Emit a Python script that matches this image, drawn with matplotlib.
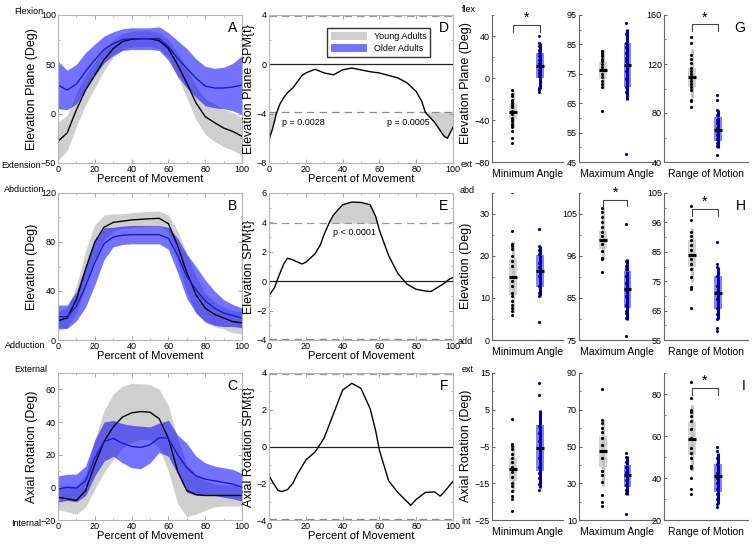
import numpy as np
import matplotlib
matplotlib.use("Agg")
import matplotlib.pyplot as plt
from matplotlib.patches import Patch, Rectangle
from matplotlib.ticker import MultipleLocator, AutoMinorLocator

plt.rcParams['font.family'] = ['Liberation Sans', 'DejaVu Sans']

# ── Data ─────────────────────────────────────────────────────────────────────
pct = [0, 5, 10, 15, 20, 25, 30, 35, 40, 45, 50, 55, 60, 65, 70, 75, 80, 85, 90, 95, 100]

# A: elevation plane (mean / sd)
young_mean_A = [-28, -19.5, 4, 24, 39, 54.5, 66, 73, 75.5, 76, 76, 74, 66, 49.5, 31, 11, -3, -9, -14.5, -18, -23]
young_sd_A = [19, 18, 17, 15, 13, 11, 9, 8, 8, 8, 8, 8, 9, 12, 15, 17, 18, 19, 19, 19, 19]
old_mean_A = [29, 24, 30, 43, 54.5, 65, 71, 75, 76, 76, 76, 76, 68, 56, 46, 36, 28, 26, 26, 27, 29]
old_sd_A = [24, 20, 20, 19, 16, 13.5, 12, 11, 11, 11, 11, 12, 14, 18, 20, 19.5, 20, 20, 21, 24, 30]

# B: elevation
young_mean_B = [15.7, 18, 33, 58, 80, 92, 96, 97, 98, 98.5, 99, 99.3, 95, 77, 55, 37, 26, 21, 18, 15, 14]
young_sd_B = [8, 8, 11, 15, 14, 10, 7, 6, 6, 6, 6, 6, 7, 12, 16, 15, 12, 10, 9, 9, 9]
old_mean_B = [19, 19, 27.6, 44, 63, 78.6, 84, 85.5, 86, 86, 86, 86, 83, 69, 52, 41, 32, 26, 22, 20, 18]
old_sd_B = [9.5, 9.5, 12, 17, 18, 13, 8, 7.5, 7.5, 7.5, 7.5, 7.5, 9, 14, 18, 19, 17, 14, 11, 9, 8]

# C: axial rotation
young_mean_C = [-6, -7, -8, -2, 14, 28, 37, 43, 45.6, 46.4, 46, 42, 30, 10, -2, -4.4, -5, -5, -5, -5, -5]
young_sd_C = [7.5, 8, 8.5, 10, 15, 19, 20, 19, 18, 17, 17, 18, 20, 20, 16, 12, 9, 7, 6.5, 6.5, 6.5]
old_mean_C = [-1, 0, -0.4, 4, 18, 28, 30, 27, 25, 24.4, 26, 30.4, 30, 20, 12, 7, 5, 4, 3, 2, 0]
old_sd_C = [8, 8, 8.5, 9, 11, 12, 11, 12, 13, 13, 11, 9, 11, 12, 15, 12, 10, 9, 9, 9, 8.5]

# D-F: SPM{t} curves
x_D = [0, 2, 4, 6, 8, 10, 13, 15, 18, 20, 25, 30, 35, 40, 45, 50, 55, 60, 65, 70, 75, 80, 83, 85, 90, 95, 97, 100]
t_D = [-6.1, -5.2, -4.0, -3.2, -2.7, -2.3, -1.9, -1.5, -0.9, -0.7, -0.4, -0.7, -0.85, -0.45, -0.3,
       -0.45, -0.6, -0.7, -0.9, -1.1, -1.5, -2.2, -3.0, -3.9, -4.7, -5.8, -6.0, -5.1]
x_E = [0, 3, 5, 8, 10, 13, 15, 18, 20, 25, 28, 30, 33, 35, 40, 45, 50, 55, 58, 60, 65, 70, 75, 80, 85, 88, 90, 95, 98, 100]
t_E = [-0.97, -0.44, 0.25, 1.17, 1.56, 1.45, 1.33, 1.17, 1.29, 1.86, 2.5, 3.2, 4.05, 4.5, 5.2, 5.38,
       5.36, 5.2, 4.4, 3.47, 1.75, 0.53, -0.2, -0.55, -0.67, -0.7, -0.55, -0.16, 0.14, 0.25]
x_F = [0, 3, 5, 7, 10, 13, 15, 20, 25, 27, 30, 35, 40, 45, 50, 55, 58, 60, 65, 70, 75, 77, 80, 85, 90, 93, 95, 100]
t_F = [-1.6, -2.1, -2.4, -2.45, -2.35, -2.0, -1.58, -0.74, -0.3, 0.0, 0.47, 1.77, 3.07, 3.44, 3.16,
       2.05, 0.84, -0.2, -1.86, -2.5, -3.0, -3.2, -2.88, -2.5, -2.47, -2.7, -2.5, -1.9]
thr_D, thr_E, thr_F = 3.9, 3.95, 3.95

# G-I: individual values and box stats [whisker lo, q1, median, q3, whisker hi]
G_min_young = [-11.6, -14.8, -17.3, -20.5, -22, -23.6, -26, -28, -31.5, -33, -34.6, -37.8, -39.4, -41, -44, -45.7, -47, -50, -56.7, -62]
G_min_young_box = [-47, -39, -32.4, -25, -11.6]
G_min_old = [40, 33, 30, 27, 23.6, 20.5, 17.3, 14, 11, 8, 4.7, 1.6, -9.4, -11.6, -13.5]
G_min_old_box = [-10, 0, 11.6, 23.6, 33]

G_max_young = [82.8, 82.2, 81.7, 80.9, 80.2, 79.4, 78.3, 77.2, 76.4, 74.9, 73.8, 72.7, 71.5, 70.4, 62.5]
G_max_young_box = [70, 73.2, 76.4, 78.9, 83.4]
G_max_old = [92.2, 88.5, 85.6, 84, 82.2, 80.5, 79.4, 78, 76, 73.2, 70.4, 68.7, 47.8]
G_max_old_box = [66, 70.4, 78, 85.6, 90.4]

G_rom_young = [142.3, 136.8, 127, 124.3, 121, 117, 114, 111.5, 108.7, 106, 103.3, 101.4, 99, 91, 89.6, 85]
G_rom_young_box = [92, 101.4, 109.3, 116.9, 132]
G_rom_old = [94.5, 91, 82.8, 78.7, 74.6, 72, 67.8, 65, 62.4, 58.8, 55.5, 52.8, 46]
G_rom_old_box = [51.5, 56.9, 66.5, 76.8, 82.8]

H_min_young = [35.2, 26, 22.8, 22.4, 21.6, 20, 18.8, 17.6, 15, 14, 12.8, 11.2, 10.4, 9.2, 8.4, 7.6, 6.8, 6]
H_min_young_box = [6.4, 10.8, 15, 19.2, 23.6]
H_min_old = [26.4, 22.4, 21.4, 20.4, 18.4, 17.4, 16.4, 15.2, 12.8, 11.2, 10.4, 4.4]
H_min_old_box = [10.4, 12.6, 16.4, 20.2, 22.4]

H_max_young = [106.4, 105.4, 104.2, 103, 101.8, 100.6, 99.8, 98.8, 97.8, 96.2, 94.6, 94.2, 91.2]
H_max_young_box = [94.2, 96.6, 98.8, 101, 106.6]
H_max_old = [102.6, 93.8, 92.6, 91.8, 90.2, 88.6, 87, 85.4, 83.4, 81.8, 81.4, 80.2, 76]
H_max_old_box = [79.8, 82.6, 87.2, 91.4, 94.2]

H_rom_young = [100.7, 95.8, 91.8, 90.4, 88.9, 87.2, 85.5, 84, 82.6, 80.9, 79.2, 76.3, 72.9, 72.3, 66]
H_rom_young_box = [74.6, 79.7, 84, 89, 93]
H_rom_old = [88.3, 80.9, 79.8, 76.9, 73.5, 71.2, 68.9, 66, 63.8, 62, 59, 57.9]
H_rom_old_box = [62, 65.5, 71, 76.7, 80]

I_min_young = [2.5, -4.3, -4.9, -5.6, -7, -8.2, -9.3, -10.7, -12, -13.4, -14.8, -15.7, -17.1, -18.5, -19.4, -22.5]
I_min_young_box = [-17.4, -14.3, -11.1, -8.1, -4.5]
I_min_old = [12.3, 9, 0.5, -1.4, -3.6, -5.3, -8.2, -10.5, -12.3, -13.6, -15.3, -16.8]
I_min_old_box = [-16.4, -11.6, -5.3, 0.9, 5]

I_max_young = [81.3, 64.5, 62.7, 60, 57.8, 54.5, 50.9, 47.3, 43.6, 36.4, 34.5, 30.9, 23.6, 20, 17.8]
I_max_young_box = [28.6, 38.6, 47.3, 55.5, 65]
I_max_old = [46.7, 44.4, 41.3, 38.9, 36.2, 34.5, 31.8, 29, 26.4, 24.5, 13.1]
I_max_old_box = [23.6, 28.2, 34.5, 40, 45]

I_rom_young = [85.9, 78, 72.5, 71.3, 69.3, 67, 63.5, 59.1, 54.4, 52, 49.6, 45.7, 44.9, 40.2, 34.6, 32.6]
I_rom_young_box = [43.3, 51, 58.8, 66.7, 74.9]
I_rom_old = [54.6, 52.8, 49.6, 46.5, 42.5, 40.2, 37.8, 34.6, 32.3, 29.9, 27.6, 26]
I_rom_old_box = [27.6, 33.2, 40.9, 46.6, 52]

box_labels = ["Minimum Angle", "Maximum Angle", "Range of Motion"]

# ── Style ────────────────────────────────────────────────────────────────────
GREY = "#cfcfcf"
BLUE_BAND = "#0000ff"
BLUE_LINE = "#1a1ad0"
W, H = 754, 547

fig = plt.figure(figsize=(W / 100, H / 100), dpi=100)


def ax_px(left, top, right, bottom):
    return fig.add_axes([left / W, 1 - bottom / H, (right - left) / W, (bottom - top) / H])


def ftxt(x, y, s, **kw):
    kw.setdefault("fontsize", 6.5)
    kw.setdefault("va", "center")
    fig.text(x / W, 1 - y / H, s, **kw)


def frame(ax):
    for s in ax.spines.values():
        s.set_color("#b4b4b4")
        s.set_linewidth(0.8)
    ax.tick_params(which="both", direction="in", top=True, right=True, color="#999999",
                   labelsize=6.5, pad=1.5)
    ax.tick_params(which="major", length=3, width=0.6)
    ax.tick_params(which="minor", length=1.5, width=0.5)
    ax.set_xlim(0, 100)
    ax.set_xticks([0, 20, 40, 60, 80, 100])
    ax.xaxis.set_minor_locator(MultipleLocator(10))
    ax.yaxis.set_minor_locator(AutoMinorLocator(2))
    ax.set_xlabel("Percent of Movement", fontsize=8, labelpad=0)


def letter(ax, s, x=0.975, y=0.96):
    ax.text(x, y, s, transform=ax.transAxes, ha="right", va="top", fontsize=10)


def draw_kin(ax, ym, ysd, om, osd, ylim, yticks, ylabel, let):
    ym, ysd, om, osd = map(np.asarray, (ym, ysd, om, osd))
    ax.fill_between(pct, ym - ysd, ym + ysd, color=GREY, lw=0)
    ax.fill_between(pct, om - osd, om + osd, color=BLUE_BAND, alpha=0.55, lw=0)
    ax.plot(pct, ym, color="k", lw=1)
    ax.plot(pct, om, color=BLUE_LINE, lw=1)
    frame(ax)
    ax.set_ylim(*ylim)
    ax.set_yticks(yticks)
    ax.set_ylabel(ylabel, fontsize=9, labelpad=2)
    letter(ax, let)


def draw_spm(ax, x, t, thr, side, ylim, yticks, ylabel, let):
    x, t = np.asarray(x), np.asarray(t)
    ax.axhline(0, color="#222222", lw=0.9)
    ax.axhline(thr, color="#9a9a9a", lw=0.9, ls=(0, (6, 4)))
    ax.axhline(-thr, color="#8a8a8a", lw=0.9, ls=(0, (6, 4)))
    if side > 0:
        ax.fill_between(x, thr, t, where=t > thr, interpolate=True, color=GREY, lw=0)
    else:
        ax.fill_between(x, -thr, t, where=t < -thr, interpolate=True, color=GREY, lw=0)
    ax.plot(x, t, color="k", lw=1)
    frame(ax)
    ax.set_ylim(*ylim)
    ax.set_yticks(yticks)
    ax.set_ylabel(ylabel, fontsize=9, labelpad=1)
    letter(ax, let)


def draw_box(ax, young, ybox, old, obox, ylim, yticks, xlim, xlabel,
             ticklabels=None, sig=None, let=None):
    groups = [(1, young, ybox, "#d4d4d4", "#c2c2c2", "k"),
              (2, old, obox, "#8484f4", "#0000b4", "#00007a")]
    for pos, pts, st, box_c, wh_c, dot_c in groups:
        wlo, q1, med, q3, whi = st
        ax.plot([pos, pos], [wlo, whi], color=wh_c, lw=2.2, solid_capstyle="butt", zorder=1)
        ax.add_patch(Rectangle((pos - 0.15, q1), 0.3, q3 - q1, fc=box_c, ec="none", zorder=2))
        ax.plot([pos, pos], [q1, q3], color=wh_c, lw=2.2, solid_capstyle="butt", zorder=2)
        ax.plot([pos - 0.15, pos + 0.15], [med, med], color="k", lw=2.2,
                solid_capstyle="butt", zorder=3)
        ax.scatter(np.full(len(pts), pos - 0.04), pts, s=5, color=dot_c, lw=0, zorder=4)
    ax.set_xlim(*xlim)
    ax.set_ylim(*ylim)
    ax.set_yticks(yticks)
    if ticklabels:
        ax.set_yticklabels(ticklabels)
    ax.yaxis.set_minor_locator(AutoMinorLocator(2))
    ax.set_xticks([])
    for s in ("top", "right"):
        ax.spines[s].set_visible(False)
    for s in ("left", "bottom"):
        ax.spines[s].set_color("#666666")
        ax.spines[s].set_linewidth(0.8)
    ax.tick_params(which="both", direction="in", color="#666666", labelsize=6.5, pad=1.5)
    ax.tick_params(which="major", length=2.5)
    ax.tick_params(which="minor", length=1.5)
    ax.set_xlabel(xlabel, fontsize=7.5, labelpad=5)
    if sig is not None:
        leg = 0.045 * (ylim[1] - ylim[0])
        ax.plot([1, 1, 2, 2], [sig - leg, sig, sig, sig - leg], color="#444444", lw=0.8)
        ax.text(1.5, sig, "*", ha="center", va="bottom", fontsize=10)
    if let:
        ax.text(0.97, 0.96, let, transform=ax.transAxes, ha="right", va="top", fontsize=10)


# ── Panels ───────────────────────────────────────────────────────────────────
axA = ax_px(58, 15, 242, 163)
draw_kin(axA, young_mean_A, young_sd_A, old_mean_A, old_sd_A, (-50, 100), [-50, 0, 50, 100],
         "Elevation Plane (Deg)", "A")
axB = ax_px(58, 193, 242, 340)
draw_kin(axB, young_mean_B, young_sd_B, old_mean_B, old_sd_B, (0, 120), [0, 40, 80, 120],
         "Elevation (Deg)", "B")
axC = ax_px(58, 373, 242, 520)
draw_kin(axC, young_mean_C, young_sd_C, old_mean_C, old_sd_C, (-20, 70), [-20, 0, 20, 40, 60],
         "Axial Rotation (Deg)", "C")

axD = ax_px(269, 15, 453, 163)
draw_spm(axD, x_D, t_D, thr_D, -1, (-8, 4), [-8, -4, 0, 4], "Elevation Plane SPM{t}", "D")
axD.text(7, -4.7, "p = 0.0028", fontsize=6.5, va="center")
axD.text(64, -4.7, "p = 0.0005", fontsize=6.5, va="center")
axD.legend(handles=[Patch(facecolor=GREY, label="Young Adults"),
                    Patch(facecolor=BLUE_BAND, alpha=0.55, label="Older Adults")],
           loc="upper right", bbox_to_anchor=(0.9, 0.94), fontsize=6.5, frameon=True,
           fancybox=False, edgecolor="#333333", framealpha=1, borderpad=0.4,
           handlelength=4, handleheight=1.0, labelspacing=0.3)

axE = ax_px(269, 193, 453, 340)
draw_spm(axE, x_E, t_E, thr_E, 1, (-4, 6), [-4, -2, 0, 2, 4, 6], "Elevation SPM{t}", "E")
axE.text(35, 3.3, "p < 0.0001", fontsize=6.5, va="center")

axF = ax_px(269, 373, 453, 520)
draw_spm(axF, x_F, t_F, thr_F, 1, (-4, 4), [-4, -2, 0, 2, 4], "Axial Rotation SPM{t}", "F")

# box plot columns
cols = [(492, 563, (0.2, 2.85)), (579, 656, (0.0, 3.2)), (664, 748, (-0.05, 3.15))]

box_rows = [
    [(G_min_young, G_min_young_box, G_min_old, G_min_old_box, (-80, 60), [-80, -40, 0, 40], None, 50.5, None),
     (G_max_young, G_max_young_box, G_max_old, G_max_old_box, (45, 95), [45, 55, 65, 75, 85, 95], None, None, None),
     (G_rom_young, G_rom_young_box, G_rom_old, G_rom_old_box, (40, 160), [40, 80, 120, 160], None, 152.4, "G")],
    [(H_min_young, H_min_young_box, H_min_old, H_min_old_box, (0, 35), [0, 10, 20, 30], None, None, None),
     (H_max_young, H_max_young_box, H_max_old, H_max_old_box, (75, 110), [75, 85, 95, 105],
      ["75", "85", "96", "105"], 108.4, None),
     (H_rom_young, H_rom_young_box, H_rom_old, H_rom_old_box, (55, 105), [55, 65, 75, 85, 95, 105],
      ["55", "65", "75", "85", "96", "105"], 99.5, "H")],
    [(I_min_young, I_min_young_box, I_min_old, I_min_old_box, (-25, 15), [-25, -15, -5, 5, 15], None, None, None),
     (I_max_young, I_max_young_box, I_max_old, I_max_old_box, (10, 90), [10, 30, 50, 70, 90], None, None, None),
     (I_rom_young, I_rom_young_box, I_rom_old, I_rom_old_box, (20, 90), [20, 40, 60, 80], None, 82.8, "I")],
]

box_tops = [(15, 162), (193, 340), (373, 520)]
for (top, bot), panels in zip(box_tops, box_rows):
    for (l, r, xl), lab, p in zip(cols, box_labels, panels):
        yv, yb, ov, ob, ylim, yt, tl, sig, let = p
        ax = ax_px(l, top, r, bot)
        draw_box(ax, yv, yb, ov, ob, ylim, yt, xl, lab, ticklabels=tl, sig=sig, let=let)

# side annotations
ftxt(43, 11, "Flexion", ha="right")
ftxt(41, 166, "Extension", ha="right")
ftxt(44, 189, "Abduction", ha="right")
ftxt(45, 345, "Adduction", ha="right")
ftxt(47, 369, "External", ha="right")
ftxt(41, 524, "Internal", ha="right")

ftxt(462, 10, "flex", ha="left")
ftxt(461, 165, "ext", ha="left")
ftxt(460, 190, "abd", ha="left")
ftxt(458, 342, "add", ha="left")
ftxt(462, 370, "ext", ha="left")
ftxt(461, 522, "int", ha="left")

ftxt(466, 83, "Elevation Plane (Deg)", rotation=90, ha="center", fontsize=9)
ftxt(466, 266, "Elevation (Deg)", rotation=90, ha="center", fontsize=9)
ftxt(466, 446, "Axial Rotation (Deg)", rotation=90, ha="center", fontsize=9)

fig.savefig("out.png", dpi=100)
